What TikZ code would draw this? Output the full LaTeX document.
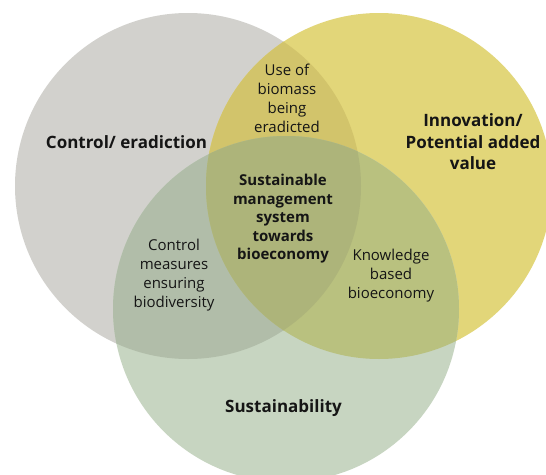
\documentclass[tikz,border=0pt]{standalone}
\usepackage{fontspec}
\setmainfont{Open Sans}
\definecolor{cgrey}{HTML}{D2D1CD}
\definecolor{cyellow}{HTML}{E2D679}
\definecolor{cgreen}{HTML}{C7D5C1}
\definecolor{cgy}{HTML}{D2C46B}
\definecolor{cgg}{HTML}{B1BDA9}
\definecolor{cyg}{HTML}{B9C17F}
\definecolor{call}{HTML}{ADB47A}
\definecolor{ctext}{HTML}{151515}
\tikzset{
  small/.style={text=ctext, align=center, inner sep=0pt, font=\fontsize{15}{19}\selectfont},
  smallbold/.style={text=ctext, align=center, inner sep=0pt, font=\fontsize{15}{18.5}\selectfont\bfseries},
  big/.style={text=ctext, align=center, inner sep=0pt, font=\fontsize{17}{21.5}\selectfont\bfseries},
}
\begin{document}
\begin{tikzpicture}[x=1pt,y=-1pt]
\useasboundingbox (0,0) rectangle (546,474);
\fill[white] (0,0) rectangle (546,474);
\clip (0,0) rectangle (546,474);
\def\G{(188,186) circle[radius=173]}
\def\Y{(379,186) circle[radius=173]}
\def\S{(286,309) circle[radius=173]}
\fill[cgrey] \G;
\fill[cyellow] \Y;
\fill[cgreen] \S;
\begin{scope}\clip \G; \fill[cgy] \Y; \end{scope}
\begin{scope}\clip \G; \fill[cgg] \S; \end{scope}
\begin{scope}\clip \Y; \fill[cyg] \S; \end{scope}
\begin{scope}\clip \G; \clip \Y; \fill[call] \S; \end{scope}

\node[big, anchor=base] (ctrl) at (126.5,148) {Control/ eradiction};
\node[big] (innov) at (473,142) {Innovation/\\Potential added\\value};
\node[big, anchor=base] (sust) at (283.5,412) {Sustainability};
\node[small] (use) at (287,98) {Use of\\biomass\\being\\eradicted};
\node[smallbold] (core) at (283,219) {Sustainable\\management\\system\\towards\\bioeconomy};
\node[small] (cmeas) at (174,275.5) {Control\\measures\\ensuring\\biodiversity};
\node[small] (know) at (391,276) {Knowledge\\based\\bioeconomy};
\end{tikzpicture}
\end{document}
